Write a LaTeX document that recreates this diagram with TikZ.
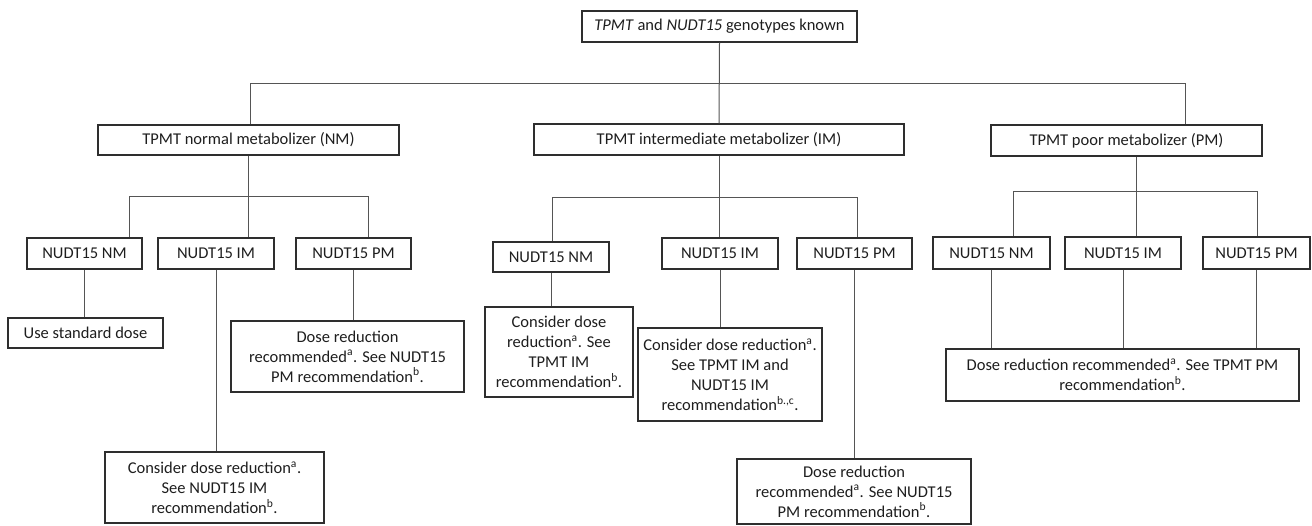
\documentclass[tikz,border=0pt]{standalone}
\usepackage{fontspec}
\setmainfont{Carlito}
\definecolor{boxline}{HTML}{2E2E2E}
\definecolor{conline}{HTML}{555555}
\definecolor{txt}{HTML}{1E1E1E}
\begin{document}
\begin{tikzpicture}[x=1pt,y=-1pt,
  bx/.style={draw=boxline,line width=1.4pt,fill=white,inner sep=0pt,align=center,
    text=txt,font=\fontsize{16.5}{20}\selectfont},
  con/.style={draw=conline,line width=1pt}]
\useasboundingbox (0,0) rectangle (1312,525);
% level 0 and 1
\node[bx,minimum width=275pt,minimum height=31pt] (top) at (719.5,26.5) {\textit{TPMT} and \textit{NUDT15} genotypes known};
\node[bx,minimum width=301pt,minimum height=30pt] (tnm) at (248.5,140) {TPMT normal metabolizer (NM)};
\node[bx,minimum width=370pt,minimum height=31pt] (tim) at (719,139.5) {TPMT intermediate metabolizer (IM)};
\node[bx,minimum width=271pt,minimum height=31pt] (tpm) at (1126.5,140.5) {TPMT poor metabolizer (PM)};
% NM group
\node[bx,minimum width=115pt,minimum height=31pt] (a1) at (84.5,253.5) {NUDT15 NM};
\node[bx,minimum width=116pt,minimum height=31pt] (a2) at (216,253.5) {NUDT15 IM};
\node[bx,minimum width=115pt,minimum height=31pt] (a3) at (353.5,253.5) {NUDT15 PM};
\node[bx,minimum width=155pt,minimum height=30pt] (ar1) at (85.5,333) {Use standard dose};
\node[bx,minimum width=233pt,minimum height=71pt] (ar3) at (347.5,356.5) {Dose reduction\\recommended\textsuperscript{a}. See NUDT15\\PM recommendation\textsuperscript{b}.};
\node[bx,minimum width=219pt,minimum height=71pt] (ar2) at (214.5,487.5) {Consider dose reduction\textsuperscript{a}.\\See NUDT15 IM\\recommendation\textsuperscript{b}.};
% IM group
\node[bx,minimum width=116pt,minimum height=30pt] (b1) at (551,257) {NUDT15 NM};
\node[bx,minimum width=116pt,minimum height=31pt] (b2) at (720,253.5) {NUDT15 IM};
\node[bx,minimum width=115pt,minimum height=31pt] (b3) at (854.5,253.5) {NUDT15 PM};
\node[bx,minimum width=148pt,minimum height=90pt] (br1) at (559,352) {Consider dose\\reduction\textsuperscript{a}. See\\TPMT IM\\recommendation\textsuperscript{b}.};
\node[bx,minimum width=184pt,minimum height=93pt] (br2) at (730,374.5) {Consider dose reduction\textsuperscript{a}.\\See TPMT IM and\\NUDT15 IM\\recommendation\textsuperscript{b.,c}.};
\node[bx,minimum width=234pt,minimum height=65pt] (br3) at (854,491.5) {Dose reduction\\recommended\textsuperscript{a}. See NUDT15\\PM recommendation\textsuperscript{b}.};
% PM group
\node[bx,minimum width=117pt,minimum height=32pt] (c1) at (991.5,253) {NUDT15 NM};
\node[bx,minimum width=116pt,minimum height=32pt] (c2) at (1123,253) {NUDT15 IM};
\node[bx,minimum width=107pt,minimum height=32pt] (c3) at (1256.5,253) {NUDT15 PM};
\node[bx,minimum width=353pt,minimum height=52pt] (cr) at (1122.5,375) {Dose reduction recommended\textsuperscript{a}. See TPMT PM\\recommendation\textsuperscript{b}.};
% junction coordinates
\coordinate (jL) at (250,83);
\coordinate (jR) at (1185,83);
\coordinate (n1) at (129,196);
\coordinate (n3) at (368,196);
\coordinate (m1) at (552,197);
\coordinate (m3) at (857,197);
\coordinate (p0) at (1136,191);
\coordinate (p1) at (1013,191);
\coordinate (p3) at (1257,191);
\begin{scope}[on background layer/.try]
\end{scope}
% top connectors
\draw[con] (top.south) -- (tim.north);
\draw[con] (jL) -- (jR);
\draw[con] (jL) -- (jL |- tnm.north);
\draw[con] (jR) -- (jR |- tpm.north);
% NM group connectors
\draw[con] (tnm.south) -- (tnm.south |- a2.north);
\draw[con] (n1) -- (n3);
\draw[con] (n1) -- (n1 |- a1.north);
\draw[con] (n3) -- (n3 |- a3.north);
\draw[con] (a1.south) -- (a1.south |- ar1.north);
\draw[con] (a2.south) -- (a2.south |- ar2.north);
\draw[con] (a3.south) -- (a3.south |- ar3.north);
% IM group connectors
\draw[con] (tim.south) -- (tim.south |- b2.north);
\draw[con] (m1) -- (m3);
\draw[con] (m1) -- (m1 |- b1.north);
\draw[con] (m3) -- (m3 |- b3.north);
\draw[con] (b1.south) -- (b1.south |- br1.north);
\draw[con] (b2.south) -- (b2.south |- br2.north);
\draw[con] (b3.south) -- (b3.south |- br3.north);
% PM group connectors
\draw[con] (p0 |- tpm.south) -- (p0 |- c2.north);
\draw[con] (p1) -- (p3);
\draw[con] (p1) -- (p1 |- c1.north);
\draw[con] (p3) -- (p3 |- c3.north);
\draw[con] (c1.south) -- (c1.south |- cr.north);
\draw[con] (c2.south) -- (c2.south |- cr.north);
\draw[con] (c3.south) -- (c3.south |- cr.north);
\end{tikzpicture}
\end{document}
